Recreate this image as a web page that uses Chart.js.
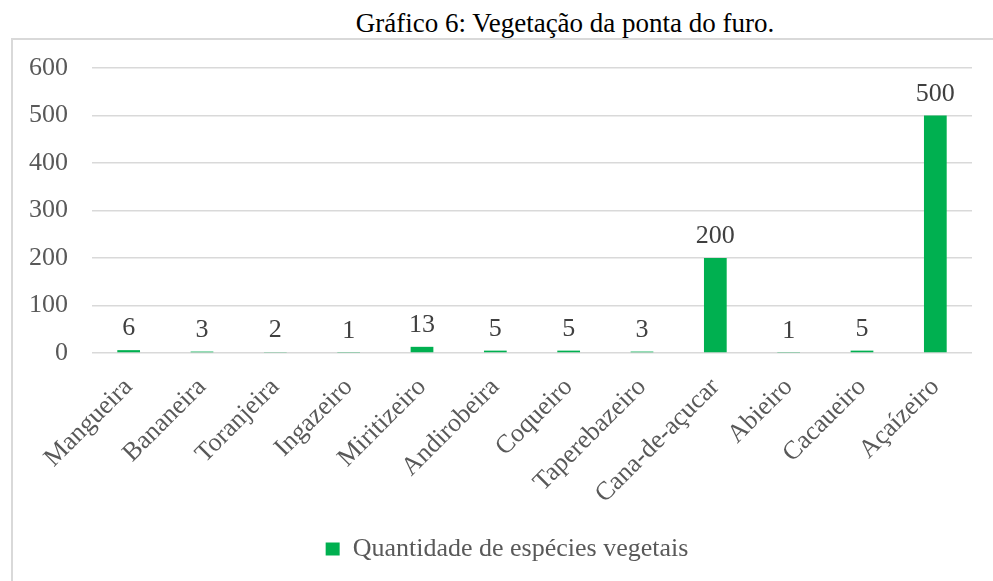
<!DOCTYPE html>
<html>
<head>
<meta charset="utf-8">
<script src="https://cdn.jsdelivr.net/npm/chart.js@4"></script>
<style>
  body { margin: 0; background: #fff; overflow: hidden; }
  #wrap { position: relative; width: 993px; height: 581px; overflow: hidden; }
  #titulo {
    position: absolute; left: 0; top: 10px; width: 1130px;
    text-align: center; font: 27px/27px 'Liberation Serif', 'Times New Roman', serif; color: #000;
  }
  #caixa {
    position: absolute; left: 11px; top: 38px; width: 1200px; height: 700px;
    border-top: 2px solid #d9d9d9; border-left: 2px solid #d9d9d9;
  }
  #myChart { position: absolute; left: 0; top: 0; }
</style>
</head>
<body>
<div id="wrap">
  <div id="titulo">Gráfico 6: Vegetação da ponta do furo.</div>
  <div id="caixa"></div>
  <canvas id="myChart" width="993" height="581"></canvas>
</div>
<script>
var especies = ['Mangueira','Bananeira','Toranjeira','Ingazeiro','Miritizeiro','Andirobeira',
  'Coqueiro','Taperebazeiro','Cana-de-açucar','Abieiro','Cacaueiro','Açaízeiro'];
var quantidade = [6,3,2,1,13,5,5,3,200,1,5,500];
var yTicks = [0,100,200,300,400,500,600];

Chart.defaults.font.family = "'Liberation Serif', 'Times New Roman', serif";
Chart.defaults.font.size = 26;
Chart.defaults.color = '#595959';

// rotulos de valor em cima das barras
const rotulos = {
  id: 'rotulos',
  afterDatasetsDraw(chart) {
    const ctx = chart.ctx;
    const meta = chart.getDatasetMeta(0);
    ctx.save();
    ctx.font = "26px 'Liberation Serif', 'Times New Roman', serif";
    ctx.fillStyle = '#404040';
    ctx.textAlign = 'center';
    ctx.textBaseline = 'alphabetic';
    meta.data.forEach(function(bar, i) {
      ctx.fillText(String(quantidade[i]), bar.x, bar.y - 15);
    });
    ctx.restore();
  }
};

new Chart(document.getElementById('myChart'), {
  type: 'bar',
  data: {
    labels: especies,
    datasets: [{
      label: 'Quantidade de espécies vegetais',
      data: quantidade,
      backgroundColor: '#00b050',
      barPercentage: 0.31,
      categoryPercentage: 1
    }]
  },
  options: {
    responsive: false,
    animation: false,
    layout: { padding: { top: 68, left: 21, right: 0, bottom: 9 } },
    scales: {
      x: {
        grid: { display: false },
        border: { display: false },
        ticks: { minRotation: 45, maxRotation: 45, padding: 11 },
        afterFit(s) { s.height = 175; }
      },
      y: {
        min: 0, max: 600,
        grid: { color: '#d9d9d9', lineWidth: 1.5, drawTicks: false },
        border: { display: false },
        ticks: { stepSize: 100, padding: 24,
          callback: function(v) { return yTicks.indexOf(v) >= 0 ? v : ''; } },
        afterFit(s) { s.width = 71; }
      },
      yr: {
        position: 'right',
        grid: { display: false },
        border: { display: false },
        ticks: { display: false },
        afterFit(s) { s.width = 21; }
      }
    },
    plugins: {
      legend: {
        position: 'bottom',
        labels: { boxWidth: 14, boxHeight: 13, padding: 8, font: { size: 26 } }
      },
      tooltip: { enabled: false }
    }
  },
  plugins: [rotulos]
});
</script>
</body>
</html>
